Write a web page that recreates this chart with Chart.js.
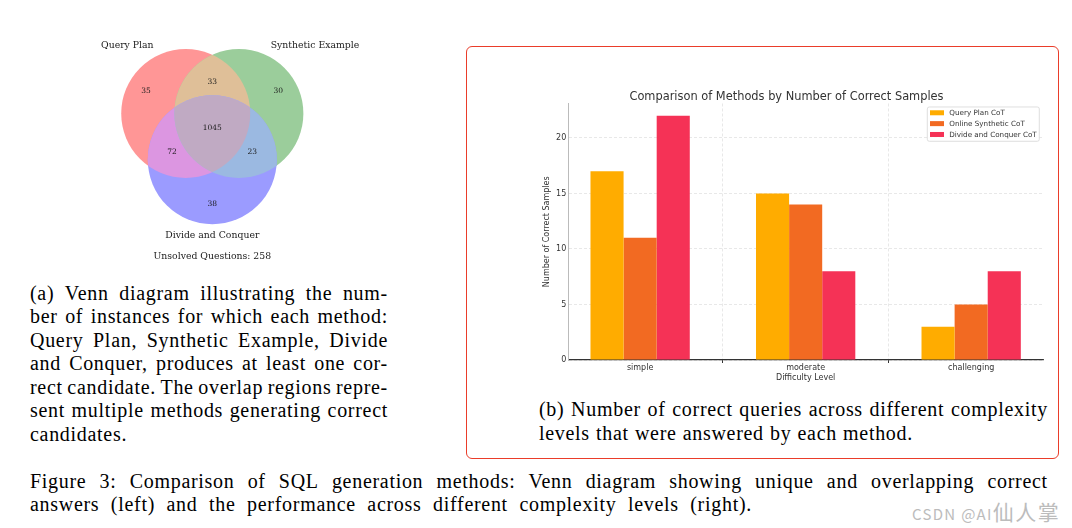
<!DOCTYPE html>
<html>
<head>
<meta charset="utf-8">
<script src="https://cdn.jsdelivr.net/npm/chart.js@4.4.1/dist/chart.umd.min.js"></script>
<style>
html,body{margin:0;padding:0;background:#fff;}
body{width:1072px;height:528px;position:relative;overflow:hidden;}
.abs{position:absolute;}
#vennBox{left:0;top:0;width:430px;height:275px;}
#barBox{left:530px;top:81px;width:520px;height:309px;}
#frame{left:466px;top:46px;width:593px;height:413px;box-sizing:border-box;border:1.3px solid #ea3d2a;border-radius:6px;}
.cap{font-family:"Liberation Serif","Times New Roman",serif;font-size:20px;color:#000;letter-spacing:0.7px;}
.line{white-space:nowrap;}
.just{display:flex;justify-content:space-between;}
#wm{left:912px;top:500px;color:#bcbcbc;font-family:"Noto Sans CJK SC","Noto Sans",sans-serif;white-space:nowrap;line-height:22px;}
</style>
</head>
<body>
<div id="frame" class="abs"></div>
<div id="vennBox" class="abs"><canvas id="venn"></canvas></div>
<div id="barBox" class="abs"><canvas id="bars"></canvas></div>
<div id="capA" class="abs cap"></div>
<div id="capB" class="abs cap"></div>
<div id="capFig" class="abs cap"></div>
<div id="wm" class="abs"><span style="font-size:15px;letter-spacing:1.3px">CSDN @AI</span><span style="font-size:21px;letter-spacing:1.5px">仙人掌</span></div>
<script>
// ---------------- DATA ----------------
// Bar chart
const categories = ['simple', 'moderate', 'challenging'];
const seriesNames = ['Query Plan CoT', 'Online Synthetic CoT', 'Divide and Conquer CoT'];
const queryPlanCoT = [17, 15, 3];
const onlineSyntheticCoT = [11, 14, 5];
const divideConquerCoT = [22, 8, 8];
const yTickStep = 5;
const yMax = 23.1;

// Venn diagram
const vennSetNames = ['Query Plan', 'Synthetic Example', 'Divide and Conquer'];
// regions: QP only, QP∩SE, SE only, all three, QP∩DC, SE∩DC, DC only
const vennRegionCounts = [35, 33, 30, 1045, 72, 23, 38];
const unsolvedQuestions = 258;

// ---------------- LAYOUT / STYLE ----------------
const barColors = ['#ffac00', '#f26a22', '#f53256'];
const vennSetColors = ['#ff9696', '#9bcd9b', '#9b9bff'];
const vennPairColors = ['#dfbf98', '#dc96e1', '#9bb9e1']; // QP∩SE, QP∩DC, SE∩DC
const vennTripleColor = '#c0aac3';
// Venn geometry in abstract units (circle radius = 1)
const vennCircles = [{x: -0.412, y: 0.239}, {x: 0.412, y: 0.239}, {x: 0, y: -0.478}];
const vennRadius = 1;
const vennRegionAnchors = [[-1.028, 0.592], [0, 0.727], [1.023, 0.592], [0, 0.009], [-0.625, -0.353], [0.620, -0.353], [0, -1.169]];
const vennSetLabelAnchors = [[-1.318, 1.290], [1.592, 1.290], [0, -1.650]];
const vennUnsolvedAnchor = [0, -1.981];
const VENN_UNIT = 64.5, VENN_CX = 212.3, VENN_CY = 128.9, VENN_W = 430, VENN_H = 275;

// ---------------- CAPTIONS ----------------
const captionA = ['(a) Venn diagram illustrating the num-', 'ber of instances for which each method:', 'Query Plan, Synthetic Example, Divide', 'and Conquer, produces at least one cor-', 'rect candidate. The overlap regions repre-', 'sent multiple methods generating correct', 'candidates.'];
const captionB = ['(b) Number of correct queries across different complexity', 'levels that were answered by each method.'];
const captionFig = ['Figure 3: Comparison of SQL generation methods: Venn diagram showing unique and overlapping correct', 'answers (left) and the performance across different complexity levels (right).'];

function buildCaption(id, lines, left, top, width, lh, lastWidth) {
  const el = document.getElementById(id);
  el.style.left = left + 'px'; el.style.top = top + 'px'; el.style.width = width + 'px';
  lines.forEach((ln, i) => {
    const d = document.createElement('div');
    d.className = 'line';
    d.style.height = lh + 'px'; d.style.lineHeight = lh + 'px';
    const isLast = i === lines.length - 1;
    if (!isLast || lastWidth) {
      d.classList.add('just');
      if (isLast) d.style.width = lastWidth + 'px';
      ln.split(' ').forEach(w => { const s = document.createElement('span'); s.textContent = w; d.appendChild(s); });
    } else {
      d.textContent = ln;
    }
    el.appendChild(d);
  });
}
buildCaption('capA', captionA, 30, 281.5, 358, 23.6, 0);
buildCaption('capB', captionB, 539, 398, 509, 23.6, 374);
buildCaption('capFig', captionFig, 30, 469.8, 1018, 23.4, 722);

// ---------------- VENN (bubble chart) ----------------
const vennPlugin = {
  id: 'vennRegions',
  afterDatasetsDraw(chart) {
    const ctx = chart.ctx;
    const els = chart.getDatasetMeta(0).data;
    const circ = i => { ctx.beginPath(); ctx.arc(els[i].x, els[i].y, els[i].options.radius, 0, Math.PI * 2); };
    const fillIn = (clips, f, color) => {
      ctx.save();
      clips.forEach(i => { circ(i); ctx.clip(); });
      circ(f); ctx.fillStyle = color; ctx.fill();
      ctx.restore();
    };
    fillIn([0], 1, vennPairColors[0]);
    fillIn([0], 2, vennPairColors[1]);
    fillIn([1], 2, vennPairColors[2]);
    fillIn([0, 1], 2, vennTripleColor);
    const sx = chart.scales.x, sy = chart.scales.y;
    ctx.save();
    ctx.textAlign = 'center'; ctx.textBaseline = 'middle';
    ctx.fillStyle = '#1a1a1a';
    ctx.font = '7.5px "DejaVu Serif"';
    vennRegionCounts.forEach((c, i) => {
      ctx.fillText(String(c), sx.getPixelForValue(vennRegionAnchors[i][0]), sy.getPixelForValue(vennRegionAnchors[i][1]));
    });
    ctx.font = '9.3px "DejaVu Serif"';
    vennSetNames.forEach((n, i) => {
      ctx.fillText(n, sx.getPixelForValue(vennSetLabelAnchors[i][0]), sy.getPixelForValue(vennSetLabelAnchors[i][1]));
    });
    ctx.fillText('Unsolved Questions: ' + unsolvedQuestions, sx.getPixelForValue(vennUnsolvedAnchor[0]), sy.getPixelForValue(vennUnsolvedAnchor[1]));
    ctx.restore();
  }
};

new Chart(document.getElementById('venn'), {
  type: 'bubble',
  data: {
    datasets: [{
      label: 'sets',
      data: vennCircles.map(c => ({x: c.x, y: c.y, r: vennRadius * VENN_UNIT})),
      backgroundColor: vennSetColors,
      hoverBackgroundColor: vennSetColors,
      borderWidth: 0,
      hoverBorderWidth: 0,
      hoverRadius: 0,
      clip: false
    }]
  },
  options: {
    responsive: true, maintainAspectRatio: false, animation: false, events: [],
    layout: {padding: 0, autoPadding: false},
    plugins: {legend: {display: false}, tooltip: {enabled: false}, title: {display: false}},
    scales: {
      x: {display: false, min: -VENN_CX / VENN_UNIT, max: (VENN_W - VENN_CX) / VENN_UNIT},
      y: {display: false, min: -(VENN_H - VENN_CY) / VENN_UNIT, max: VENN_CY / VENN_UNIT}
    }
  },
  plugins: [vennPlugin]
});

// ---------------- BAR CHART ----------------
const legendPlugin = {
  id: 'boxLegend',
  afterDatasetsDraw(chart) {
    const {ctx, chartArea: a} = chart;
    const w = 112, h = 34.3;
    const right = a.right - 3.7, top = a.top + 3.5, left = right - w;
    ctx.save();
    ctx.fillStyle = 'rgba(255,255,255,0.85)';
    ctx.strokeStyle = '#d6d6d6';
    ctx.lineWidth = 0.8;
    ctx.beginPath();
    ctx.roundRect(left, top, w, h, 2);
    ctx.fill(); ctx.stroke();
    ctx.font = '7.2px "DejaVu Sans"';
    ctx.textBaseline = 'middle';
    chart.data.datasets.forEach((ds, i) => {
      const cy = top + 5.8 + i * 10.85;
      ctx.fillStyle = ds.backgroundColor;
      ctx.fillRect(left + 2.7, cy - 2.5, 14, 5);
      ctx.fillStyle = '#333';
      ctx.fillText(ds.label, left + 22, cy + 0.3);
    });
    ctx.restore();
  }
};

const seriesValues = [queryPlanCoT, onlineSyntheticCoT, divideConquerCoT];
const tickFont = {family: 'DejaVu Sans', size: 8};
new Chart(document.getElementById('bars'), {
  type: 'bar',
  data: {
    datasets: seriesNames.map((name, k) => ({
      label: name,
      data: categories.map((c, i) => ({x: i, y: seriesValues[k][i]})),
      backgroundColor: barColors[k],
      borderWidth: 0
    }))
  },
  options: {
    responsive: true, maintainAspectRatio: false, animation: false, events: [],
    datasets: {bar: {categoryPercentage: 0.6, barPercentage: 1.0}},
    layout: {padding: {left: 0, right: 7, top: 0, bottom: 0}},
    plugins: {
      legend: {display: false}, tooltip: {enabled: false},
      title: {display: true, text: 'Comparison of Methods by Number of Correct Samples', color: '#333',
        font: {family: 'DejaVu Sans', size: 11.4, weight: 'normal'}, padding: {top: 8.8, bottom: 0}}
    },
    scales: {
      x: {
        type: 'linear', min: -0.434, max: 2.434, offset: false,
        afterFit: s => { s.height = 30; },
        ticks: {stepSize: 1, includeBounds: false, autoSkip: false, padding: 0, maxRotation: 0, color: '#333', font: tickFont,
          callback: v => (categories[v] !== undefined ? categories[v] : '')},
        grid: {color: '#e2e2e2', lineWidth: 0.8, drawTicks: true, tickLength: 3, tickColor: '#333', tickWidth: 1, tickBorderDash: []},
        border: {display: true, color: '#333', width: 1.2, dash: [3, 2]},
        title: {display: true, text: 'Difficulty Level', color: '#333', font: tickFont, padding: {top: 0, bottom: 7.2}}
      },
      y: {
        min: 0, max: yMax,
        afterFit: s => { s.width = 38.3; },
        ticks: {stepSize: yTickStep, includeBounds: false, padding: 2, color: '#333', font: tickFont},
        grid: {color: '#e2e2e2', lineWidth: 0.8, drawTicks: false},
        border: {display: true, color: '#bbb', width: 1, dash: [3, 2]},
        title: {display: true, text: 'Number of Correct Samples', color: '#333', font: tickFont, padding: {top: 12.2, bottom: 0}}
      }
    }
  },
  plugins: [legendPlugin]
});
</script>
</body>
</html>
